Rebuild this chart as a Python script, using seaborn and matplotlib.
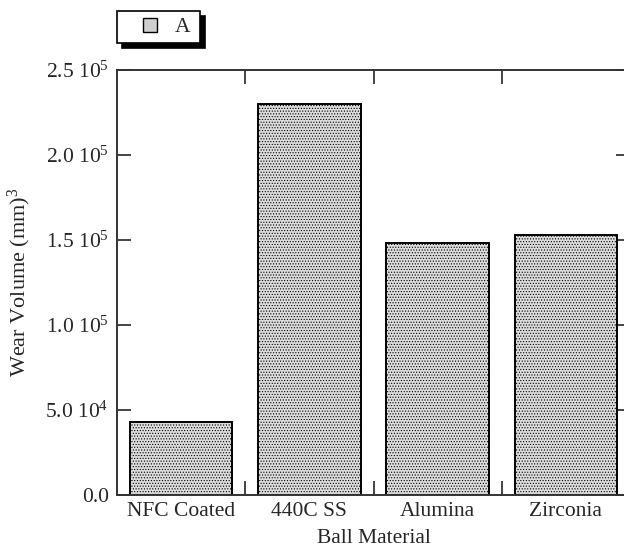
import matplotlib
matplotlib.use("Agg")
import matplotlib.pyplot as plt
import seaborn as sns
import pandas as pd
from matplotlib.ticker import FixedLocator, FixedFormatter
from matplotlib.lines import Line2D

categories = ["NFC Coated", "440C SS", "Alumina", "Zirconia"]
wear_volume = [4.3e4, 2.3e5, 1.48e5, 1.53e5]
series_name = "A"
ytick_values = [0, 5e4, 1e5, 1.5e5, 2e5, 2.5e5]
ytick_labels = ["0.0", "5.0 10$^4$", "1.0 10$^5$", "1.5 10$^5$", "2.0 10$^5$", "2.5 10$^5$"]
xlabel = "Ball Material"
ylabel = "Wear Volume (mm)$^3$"

sns.set_style("white")
plt.rcParams["font.family"] = ["Liberation Serif", "DejaVu Serif"]
plt.rcParams["mathtext.fontset"] = "custom"
plt.rcParams["mathtext.rm"] = "Liberation Serif"
plt.rcParams["mathtext.it"] = "Liberation Serif:italic"
plt.rcParams["hatch.color"] = "#b0b0b0"
plt.rcParams["hatch.linewidth"] = 0.5

FS = 15.5
face = "#dcdcdc"

df = pd.DataFrame({"cat": categories, "val": wear_volume, "series": series_name})

fig = plt.figure(figsize=(6.24, 5.54), dpi=100)
ax = fig.add_axes([117/624, 1-495/554, (630-117)/624, (495-70)/554])

sns.barplot(data=df, x="cat", y="val", hue="series", palette=[face],
            width=0.8, edgecolor="black", linewidth=1.4, ax=ax, legend=False, saturation=1)
for p in ax.patches:
    p.set_hatch("......")

ax.set_xlim(-0.5, len(categories) - 0.5)
ax.set_ylim(0, 2.5e5)
ax.yaxis.set_major_locator(FixedLocator(ytick_values))
ax.yaxis.set_major_formatter(FixedFormatter(ytick_labels))
ax.xaxis.set_minor_locator(FixedLocator([i + 0.5 for i in range(len(categories) - 1)]))
ax.tick_params(axis="x", which="major", length=0, labelsize=FS, pad=5)
ax.tick_params(axis="x", which="minor", direction="in", length=10, width=1.2, top=True, bottom=True)
ax.tick_params(axis="y", which="major", direction="in", length=10, width=1.2, labelsize=FS,
               left=True, right=True, pad=6)
for s in ax.spines.values():
    s.set_linewidth(1.4)
    s.set_color("#333333")

ax.set_xlabel(xlabel, fontsize=FS, labelpad=6)
ax.set_ylabel(ylabel, fontsize=16, labelpad=9)

h = [Line2D([], [], linestyle="none", marker="s", markersize=10.5,
            markerfacecolor="#cfcfcf", markeredgecolor="black", markeredgewidth=1.0,
            label=series_name)]
leg = fig.legend(handles=h, loc="upper left", bbox_to_anchor=(117/624, 1 - 11/554),
                 frameon=True, fancybox=False, shadow={"ox": 3.6, "oy": -3.6, "color": "black", "alpha": 1},
                 edgecolor="black", fontsize=FS, handlelength=2.5, handletextpad=-0.1,
                 borderpad=0.28, borderaxespad=0)
leg.get_frame().set_linewidth(1.2)
leg.get_frame().set_alpha(1)
leg.get_texts()[0].set_text(series_name + " ")

fig.savefig("out.png", dpi=100)
